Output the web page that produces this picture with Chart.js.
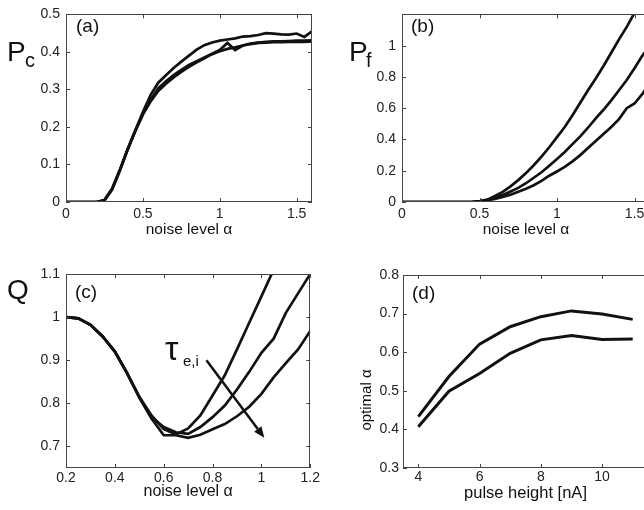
<!DOCTYPE html>
<html>
<head>
<meta charset="utf-8">
<script src="https://cdn.jsdelivr.net/npm/chart.js@4.4.0/dist/chart.umd.min.js"></script>
<style>
html, body { margin: 0; padding: 0; background: #fff; overflow: hidden; width: 644px; height: 510px; }
.panel { position: absolute; }
.lbl { position: absolute; font-family: "Liberation Sans", Arial, sans-serif; color: #111; line-height: 1; white-space: nowrap; }
</style>
</head>
<body>
<div class="panel" style="left:0;top:0;width:322px;height:255px"><canvas id="chartA"></canvas></div>
<div class="panel" style="left:322px;top:0;width:340px;height:255px"><canvas id="chartB"></canvas></div>
<div class="panel" style="left:0;top:255px;width:322px;height:255px"><canvas id="chartC"></canvas></div>
<div class="panel" style="left:322px;top:255px;width:340px;height:255px"><canvas id="chartD"></canvas></div>

<!-- panel letters and axis symbols -->
<div class="lbl" style="left:76px;top:16px;font-size:19px">(a)</div>
<div class="lbl" style="left:411px;top:16px;font-size:19px">(b)</div>
<div class="lbl" style="left:75px;top:282px;font-size:19px">(c)</div>
<div class="lbl" style="left:412px;top:283px;font-size:19px">(d)</div>

<div class="lbl" style="left:7px;top:38px;font-size:28px">P</div>
<div class="lbl" style="left:25px;top:50px;font-size:20px">c</div>
<div class="lbl" style="left:349px;top:38px;font-size:28px">P</div>
<div class="lbl" style="left:366px;top:50px;font-size:20px">f</div>
<div class="lbl" style="left:7px;top:276px;font-size:28px">Q</div>

<div class="lbl" style="left:165px;top:331px;font-size:34px">τ</div>
<div class="lbl" style="left:183px;top:353px;font-size:15px">e,i</div>

<div class="lbl" style="left:365px;top:400px;font-size:15px;transform:translate(-50%,-50%) rotate(-90deg)">optimal α</div>

<script>
// (a) correct detections Pc vs noise level
var alphaA = [0, 0.05, 0.1, 0.15, 0.2, 0.25, 0.3, 0.35, 0.4, 0.45, 0.5, 0.55, 0.6, 0.65, 0.7, 0.75, 0.8,
              0.85, 0.9, 0.95, 1.0, 1.05, 1.1, 1.15, 1.2, 1.25, 1.3, 1.35, 1.4, 1.45, 1.5, 1.55, 1.6];
var pcTop = [0, 0, 0, 0, 0, 0.005, 0.035, 0.085, 0.14, 0.19, 0.24, 0.285, 0.318, 0.338, 0.357, 0.374, 0.39,
             0.406, 0.418, 0.425, 0.43, 0.433, 0.436, 0.441, 0.442, 0.445, 0.45, 0.449, 0.447, 0.446, 0.449, 0.44, 0.455];
var pcMid = [0, 0, 0, 0, 0, 0.005, 0.035, 0.085, 0.14, 0.19, 0.235, 0.272, 0.303, 0.322, 0.338, 0.352, 0.365,
             0.375, 0.385, 0.395, 0.405, 0.424, 0.405, 0.417, 0.422, 0.425, 0.427, 0.428, 0.428, 0.429, 0.43, 0.43, 0.431];
var pcLow = [0, 0, 0, 0, 0, 0.004, 0.033, 0.083, 0.138, 0.188, 0.233, 0.268, 0.296, 0.315, 0.332, 0.347, 0.36,
             0.372, 0.383, 0.394, 0.402, 0.408, 0.412, 0.417, 0.421, 0.424, 0.425, 0.426, 0.426, 0.427, 0.427, 0.427, 0.428];

// (b) false detections Pf vs noise level
var alphaB = alphaA.slice();
var pf1 = [0, 0, 0, 0, 0, 0, 0, 0, 0, 0, 0.005, 0.015, 0.038, 0.065, 0.1, 0.14, 0.185,
           0.235, 0.29, 0.35, 0.415, 0.48, 0.555, 0.635, 0.715, 0.79, 0.87, 0.955, 1.04, 1.12, 1.21, null, null];
var pf2 = [0, 0, 0, 0, 0, 0, 0, 0, 0, 0, 0.005, 0.013, 0.028, 0.045, 0.067, 0.09, 0.12,
           0.155, 0.19, 0.232, 0.275, 0.32, 0.37, 0.42, 0.475, 0.535, 0.59, 0.65, 0.715, 0.78, 0.855, 0.935, 1.0];
var pf3 = [0, 0, 0, 0, 0, 0, 0, 0, 0, 0, 0.005, 0.012, 0.02, 0.032, 0.047, 0.065, 0.085,
           0.107, 0.135, 0.168, 0.195, 0.225, 0.26, 0.3, 0.345, 0.39, 0.435, 0.48, 0.53, 0.6, 0.63, 0.69, 0.76];

// (c) quality Q vs noise level
var alphaC = [0.2, 0.25, 0.3, 0.35, 0.4, 0.45, 0.5, 0.55, 0.6, 0.65, 0.7, 0.75, 0.8,
              0.85, 0.9, 0.95, 1.0, 1.05, 1.1, 1.15, 1.2];
var q1 = [1.0, 0.997, 0.982, 0.955, 0.92, 0.87, 0.815, 0.772, 0.74, 0.728, 0.742, 0.772, 0.818,
          0.865, 0.925, 0.987, 1.048, 1.11, null, null, null];
var q2 = [1.0, 0.997, 0.982, 0.955, 0.92, 0.87, 0.815, 0.768, 0.745, 0.733, 0.729, 0.745, 0.768,
          0.795, 0.832, 0.873, 0.917, 0.95, 1.01, 1.055, 1.1];
var q3 = [1.0, 0.997, 0.982, 0.955, 0.92, 0.87, 0.813, 0.765, 0.726, 0.726, 0.72, 0.727, 0.74,
          0.752, 0.77, 0.792, 0.822, 0.86, 0.893, 0.925, 0.968];

// (d) optimal noise level vs pulse height
var pulseD = [4, 5, 6, 7, 8, 9, 10, 11];
var optUpper = [0.433, 0.537, 0.621, 0.666, 0.692, 0.707, 0.699, 0.685];
var optLower = [0.407, 0.499, 0.545, 0.597, 0.632, 0.643, 0.633, 0.634];

// tick values
var ticksAx = [0, 0.5, 1, 1.5];
var ticksAy = [0, 0.1, 0.2, 0.3, 0.4, 0.5];
var ticksBy = [0, 0.2, 0.4, 0.6, 0.8, 1];
var ticksCx = [0.2, 0.4, 0.6, 0.8, 1, 1.2];
var ticksCy = [0.7, 0.8, 0.9, 1, 1.1];
var ticksDx = [4, 6, 8, 10];
var ticksDy = [0.3, 0.4, 0.5, 0.6, 0.7, 0.8];

var FONT = '"Liberation Sans", Arial, sans-serif';
var INK = '#111';

function pts(xs, ys) {
    return xs.map(function(x, i) { return { x: x, y: ys[i] }; });
}

// axes box with inward ticks, matlab style
var boxPlugin = {
    id: 'box',
    afterDatasetsDraw: function(chart) {
        var ctx = chart.ctx, a = chart.chartArea;
        var x = chart.scales.x, y = chart.scales.y;
        ctx.save();
        ctx.strokeStyle = '#444';
        ctx.lineWidth = 1;
        ctx.strokeRect(Math.round(a.left) + 0.5, Math.round(a.top) + 0.5, Math.round(a.width) - 1, Math.round(a.height) - 1);
        ctx.beginPath();
        x.ticks.forEach(function(t) {
            var px = Math.round(x.getPixelForValue(t.value)) + 0.5;
            ctx.moveTo(px, a.bottom); ctx.lineTo(px, a.bottom - 4);
            ctx.moveTo(px, a.top); ctx.lineTo(px, a.top + 4);
        });
        y.ticks.forEach(function(t) {
            var py = Math.round(y.getPixelForValue(t.value)) + 0.5;
            ctx.moveTo(a.left, py); ctx.lineTo(a.left + 4, py);
            ctx.moveTo(a.right, py); ctx.lineTo(a.right - 4, py);
        });
        ctx.stroke();
        ctx.restore();
    }
};

// arrow in (c) pointing along increasing tau
var arrowPlugin = {
    id: 'tauArrow',
    afterDatasetsDraw: function(chart) {
        var ctx = chart.ctx, x = chart.scales.x, y = chart.scales.y;
        var x0 = x.getPixelForValue(0.775), y0 = y.getPixelForValue(0.9);
        var x1 = x.getPixelForValue(1.012), y1 = y.getPixelForValue(0.72);
        var ang = Math.atan2(y1 - y0, x1 - x0);
        var head = 11, half = 4.5;
        var bx = x1 - head * Math.cos(ang), by = y1 - head * Math.sin(ang);
        ctx.save();
        ctx.strokeStyle = INK;
        ctx.fillStyle = INK;
        ctx.lineWidth = 2.5;
        ctx.beginPath();
        ctx.moveTo(x0, y0);
        ctx.lineTo(bx, by);
        ctx.stroke();
        ctx.beginPath();
        ctx.moveTo(x1, y1);
        ctx.lineTo(bx + half * Math.sin(ang), by - half * Math.cos(ang));
        ctx.lineTo(bx - half * Math.sin(ang), by + half * Math.cos(ang));
        ctx.closePath();
        ctx.fill();
        ctx.restore();
    }
};

function makeChart(id, o) {
    return new Chart(document.getElementById(id), {
        type: 'line',
        data: {
            datasets: o.series.map(function(s) {
                return { data: pts(o.xs, s), borderColor: INK, borderWidth: o.lw, pointRadius: 0, tension: 0, fill: false };
            })
        },
        options: {
            responsive: true,
            maintainAspectRatio: false,
            animation: false,
            devicePixelRatio: 1,
            layout: { padding: o.pad },
            plugins: { legend: { display: false }, tooltip: { enabled: false } },
            scales: {
                x: {
                    type: 'linear', min: o.xmin, max: o.xmax,
                    grid: { display: false, drawTicks: false },
                    border: { display: false },
                    afterBuildTicks: function(s) { s.ticks = o.xTicks.map(function(v) { return { value: v }; }); },
                    afterFit: function(s) { s.height = o.xh; },
                    ticks: { padding: o.xpad, color: '#222', autoSkip: false, maxRotation: 0,
                             font: { family: FONT, size: 14 }, callback: function(v) { return String(v); } },
                    title: { display: true, text: o.xTitle, color: INK, font: { family: FONT, size: o.tsize },
                             padding: { top: 0, bottom: o.xtb } }
                },
                y: {
                    type: 'linear', min: o.ymin, max: o.ymax,
                    grid: { display: false, drawTicks: false },
                    border: { display: false },
                    afterBuildTicks: function(s) { s.ticks = o.yTicks.map(function(v) { return { value: v }; }); },
                    afterFit: function(s) { s.width = o.yw; },
                    ticks: { padding: o.ypad, color: '#222', autoSkip: false,
                             font: { family: FONT, size: 14 }, callback: function(v) { return String(v); } }
                }
            }
        },
        plugins: [boxPlugin].concat(o.extra || [])
    });
}

makeChart('chartA', {
    xs: alphaA, series: [pcTop, pcMid, pcLow], lw: 2.7,
    xmin: 0, xmax: 1.6, ymin: 0, ymax: 0.5, xTicks: ticksAx, yTicks: ticksAy,
    pad: { top: 9, right: 10, left: 0, bottom: 0 }, xh: 53, yw: 66, xpad: 4, ypad: 6, xtb: 16, tsize: 15.5,
    xTitle: 'noise level α'
});

makeChart('chartB', {
    xs: alphaB, series: [pf1, pf2, pf3], lw: 2.7,
    xmin: 0, xmax: 1.6, ymin: 0, ymax: 1.2, xTicks: ticksAx, yTicks: ticksBy,
    pad: { top: 9, right: 12, left: 0, bottom: 0 }, xh: 53, yw: 80, xpad: 4, ypad: 6, xtb: 16, tsize: 15.5,
    xTitle: 'noise level α'
});

makeChart('chartC', {
    xs: alphaC, series: [q1, q2, q3], lw: 2.7,
    xmin: 0.2, xmax: 1.2, ymin: 0.65, ymax: 1.1, xTicks: ticksCx, yTicks: ticksCy,
    pad: { top: 19, right: 10, left: 0, bottom: 0 }, xh: 42, yw: 66, xpad: 2, ypad: 6, xtb: 9, tsize: 16,
    xTitle: 'noise level α', extra: [arrowPlugin]
});

makeChart('chartD', {
    xs: pulseD, series: [optUpper, optLower], lw: 3,
    xmin: 3.5, xmax: 11.5, ymin: 0.3, ymax: 0.8, xTicks: ticksDx, yTicks: ticksDy,
    pad: { top: 20, right: 14, left: 0, bottom: 0 }, xh: 42, yw: 81, xpad: 1, ypad: 4, xtb: 7, tsize: 16.5,
    xTitle: 'pulse height [nA]'
});
</script>
</body>
</html>
